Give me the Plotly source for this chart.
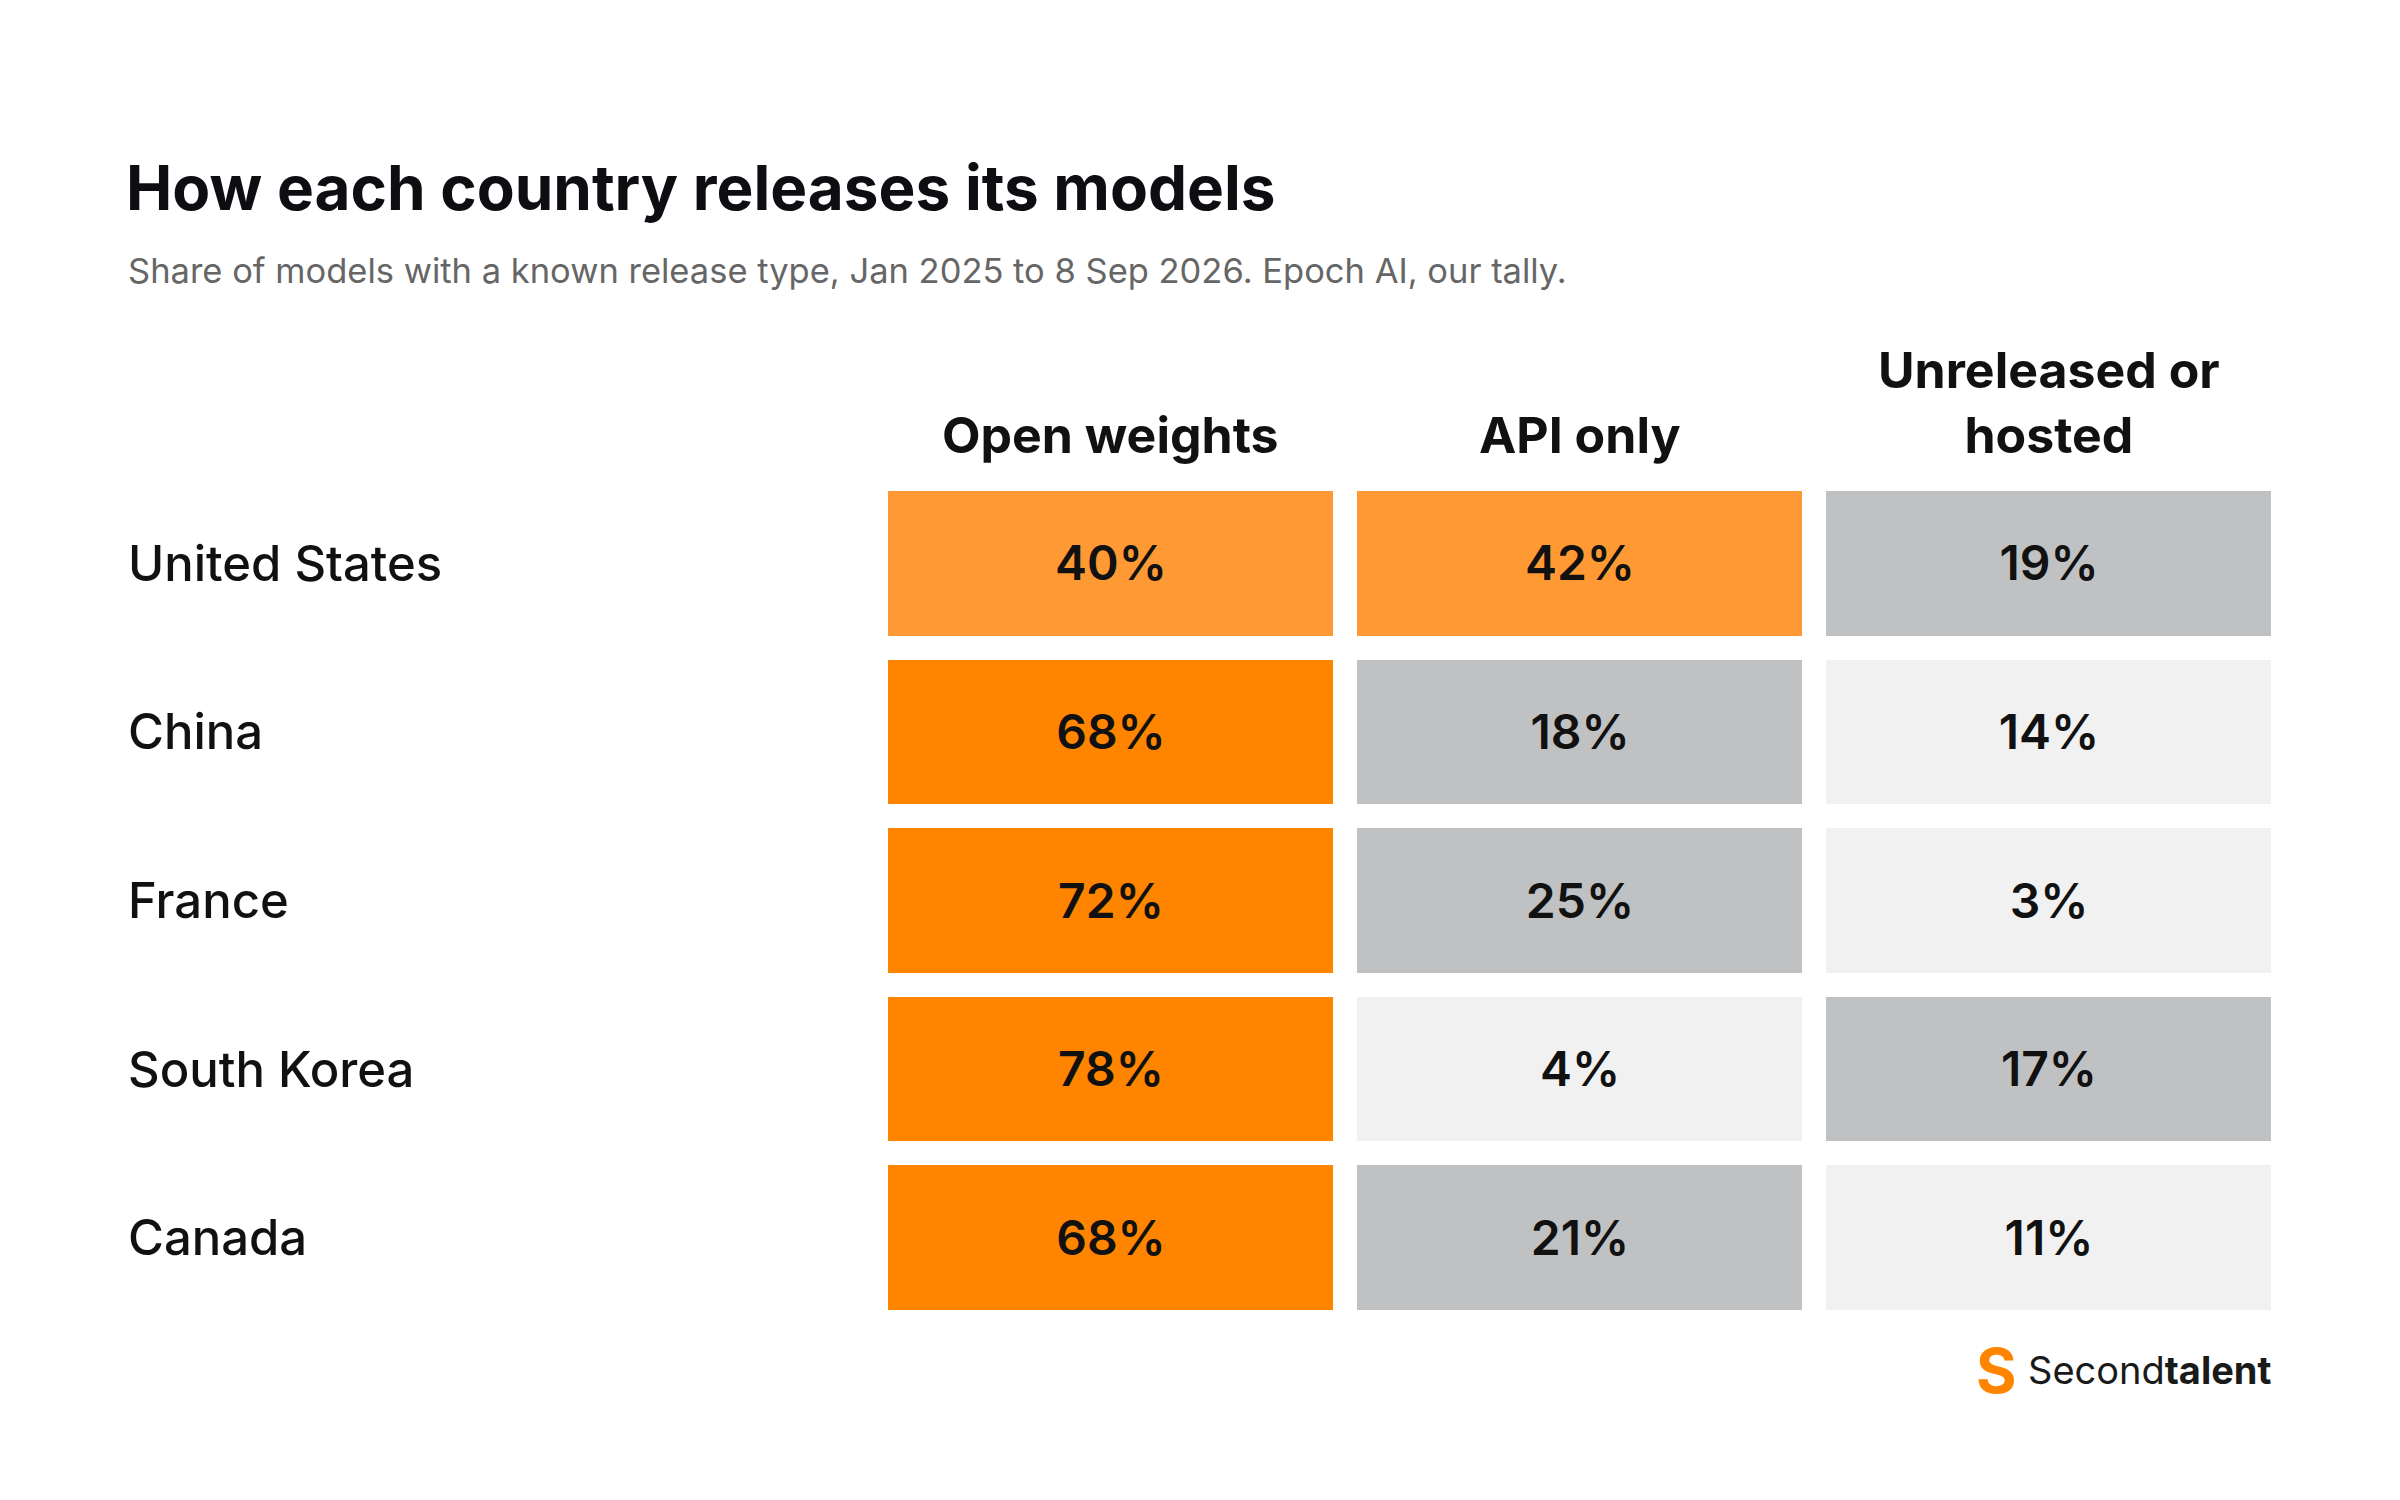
import plotly.graph_objects as go

countries = ["United States", "China", "France", "South Korea", "Canada"]
columns = ["Open weights", "API only", "Unreleased or<br>hosted"]
open_weights = [40, 68, 72, 78, 68]
api_only = [42, 18, 25, 4, 21]
unreleased = [19, 14, 3, 17, 11]

values = [[a, b, c] for a, b, c in zip(open_weights, api_only, unreleased)]

def cls(v):
    if v >= 60: return 3
    if v >= 35: return 2
    if v >= 15: return 1
    return 0

z = [[cls(v) for v in row] for row in values]
text = [[f"{v}%" for v in row] for row in values]
xs = list(range(len(columns)))
ys = list(range(len(countries)))

cs = [[0, "#F0F1F0"], [0.25, "#F0F1F0"], [0.25, "#C0C1C2"], [0.5, "#C0C1C2"],
      [0.5, "#FF9933"], [0.75, "#FF9933"], [0.75, "#FF8500"], [1, "#FF8500"]]

W, H = 2400, 1500
L, R, T, B = 868, 125, 471, 186
PW, PH = W - L - R, H - T - B
def px(x): return (x - L) / PW
def py(y): return (H - B - y) / PH

fig = go.Figure(go.Heatmap(
    z=z, x=xs, y=ys, text=text, texttemplate="%{text}",
    textfont=dict(family="Inter", size=48, color="#111111", weight=600),
    colorscale=cs, zmin=-0.5, zmax=3.5, showscale=False, xgap=24, ygap=24,
    hoverinfo="skip"))

fig.update_layout(width=W, height=H, margin=dict(l=L, r=R, t=T, b=B),
                  paper_bgcolor="white", plot_bgcolor="white",
                  xaxis=dict(visible=False, range=[-0.5, 2.5]),
                  yaxis=dict(visible=False, range=[4.5, -0.5]))

ann = []
ann.append(dict(text="How each country releases its models", xref="paper", yref="paper",
                x=px(116), y=py(180), xanchor="left", yanchor="middle",
                showarrow=False, font=dict(family="Inter", size=62, color="#0d0d12", weight=700)))
ann.append(dict(text="Share of models with a known release type, Jan 2025 to 8 Sep 2026. Epoch AI, our tally.",
                xref="paper", yref="paper", x=px(118), y=py(262),
                xanchor="left", yanchor="middle", showarrow=False,
                font=dict(family="Inter", size=34.5, color="#666666")))
for i, c in enumerate(countries):
    ann.append(dict(text=c, xref="paper", yref="y", x=px(118), y=i, xanchor="left",
                    yanchor="middle", showarrow=False,
                    font=dict(family="Inter", size=49, color="#111111", weight=500)))
for j, c in enumerate(columns):
    ann.append(dict(text=c, xref="x", yref="paper", x=j, y=py(459),
                    xanchor="center", yanchor="bottom", showarrow=False,
                    font=dict(family="Inter", size=50, color="#111111", weight=700)))
ann.append(dict(text="Second<b>talent</b>", xref="paper", yref="paper", x=px(2266), y=py(1362),
                xanchor="right", yanchor="middle", showarrow=False,
                font=dict(family="Inter", size=38, color="#1a1a1a")))
ann.append(dict(text="<b>S</b>", xref="paper", yref="paper", x=px(1988), y=py(1362),
                xanchor="center", yanchor="middle", showarrow=False,
                font=dict(family="Inter", size=62, color="#FF8500")))
fig.update_layout(annotations=ann)
fig.write_html("out.html")
